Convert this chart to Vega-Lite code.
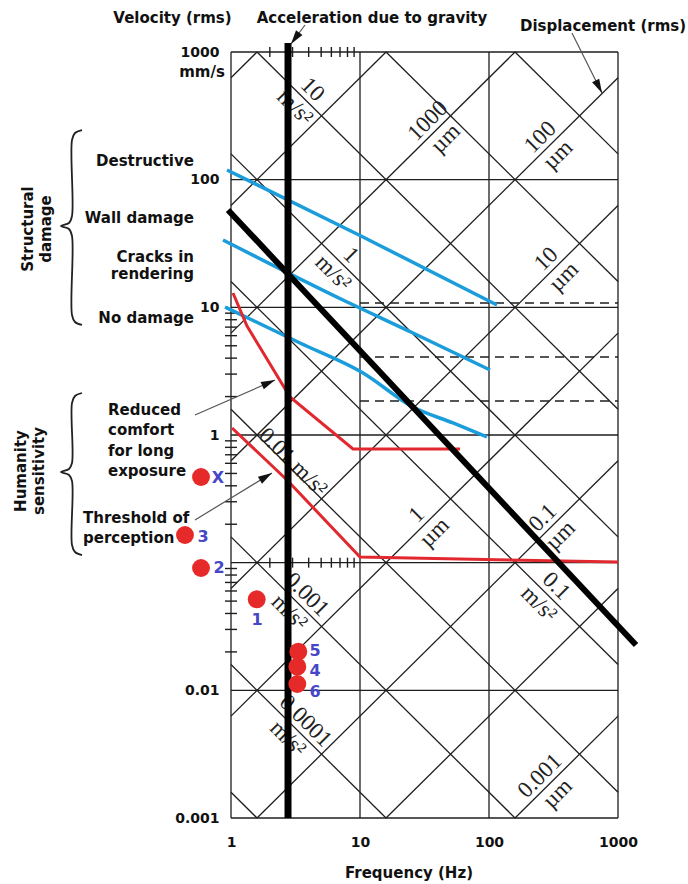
{
"$schema": "https://vega.github.io/schema/vega-lite/v6.json",
"width": 387, "height": 766,
"autosize": {"type": "none"},
"padding": {"left": 231, "top": 52, "right": 70, "bottom": 66},
"background": "white",
"config": {"view": {"stroke": null}},
"datasets": {
"segs": [
{"k":"grid","f":1,"v":0.001,"f2":1,"v2":1000},
{"k":"grid","f":10,"v":0.001,"f2":10,"v2":1000},
{"k":"grid","f":100,"v":0.001,"f2":100,"v2":1000},
{"k":"grid","f":1000,"v":0.001,"f2":1000,"v2":1000},
{"k":"grid","f":1,"v":0.001,"f2":1000,"v2":0.001},
{"k":"grid","f":1,"v":0.01,"f2":1000,"v2":0.01},
{"k":"grid","f":1,"v":0.1,"f2":1000,"v2":0.1},
{"k":"grid","f":1,"v":1,"f2":1000,"v2":1},
{"k":"grid","f":1,"v":10,"f2":1000,"v2":10},
{"k":"grid","f":1,"v":100,"f2":1000,"v2":100},
{"k":"grid","f":1,"v":1000,"f2":1000,"v2":1000},
{"k":"diag","f":159.15,"v":0.001,"f2":1000,"v2":0.006283},
{"k":"diag","f":15.915,"v":0.001,"f2":1000,"v2":0.06283},
{"k":"diag","f":1.5915,"v":0.001,"f2":1000,"v2":0.6283},
{"k":"diag","f":1,"v":0.006283,"f2":1000,"v2":6.283},
{"k":"diag","f":1,"v":0.06283,"f2":1000,"v2":62.83},
{"k":"diag","f":1,"v":0.6283,"f2":1000,"v2":628.3},
{"k":"diag","f":1,"v":6.283,"f2":159.15,"v2":1000},
{"k":"diag","f":1,"v":62.83,"f2":15.915,"v2":1000},
{"k":"diag","f":1,"v":628.3,"f2":1.5915,"v2":1000},
{"k":"diag","f":159.15,"v":1000,"f2":1000,"v2":159.15},
{"k":"diag","f":15.915,"v":1000,"f2":1000,"v2":15.915},
{"k":"diag","f":1.5915,"v":1000,"f2":1000,"v2":1.5915},
{"k":"diag","f":1,"v":159.15,"f2":1000,"v2":0.15915},
{"k":"diag","f":1,"v":15.915,"f2":1000,"v2":0.015915},
{"k":"diag","f":1,"v":1.5915,"f2":1000,"v2":0.0015915},
{"k":"diag","f":1,"v":0.15915,"f2":159.15,"v2":0.001},
{"k":"diag","f":1,"v":0.015915,"f2":15.915,"v2":0.001},
{"k":"diag","f":1,"v":0.0015915,"f2":1.5915,"v2":0.001},
{"k":"dash","f":10,"v":10.81,"f2":1000,"v2":10.81},
{"k":"dash","f":10,"v":4.083,"f2":1000,"v2":4.083},
{"k":"dash","f":10,"v":1.846,"f2":1000,"v2":1.846},
{"k":"gdiag","f":0.9479,"v":57.86,"f2":1379,"v2":0.02265},
{"k":"bar","f":2.767,"v":0.001,"f2":2.767,"v2":1176},
{"k":"arrow","f":0.5258,"v":1.434,"f2":2.193,"v2":2.697},
{"k":"arrow","f":0.5258,"v":0.2159,"f2":2.078,"v2":0.5039},
{"k":"arrow","f":3.746,"v":1627,"f2":2.918,"v2":1155},
{"k":"arrow","f":439.9,"v":1408,"f2":751.6,"v2":477.5}
],
"mt": [
{"k":"y","f":1,"v":0.02},{"k":"y","f":1,"v":0.03},{"k":"y","f":1,"v":0.04},{"k":"y","f":1,"v":0.05},{"k":"y","f":1,"v":0.06},{"k":"y","f":1,"v":0.07},{"k":"y","f":1,"v":0.08},{"k":"y","f":1,"v":0.09},
{"k":"y","f":1,"v":0.2},{"k":"y","f":1,"v":0.3},{"k":"y","f":1,"v":0.4},{"k":"y","f":1,"v":0.5},{"k":"y","f":1,"v":0.6},{"k":"y","f":1,"v":0.7},{"k":"y","f":1,"v":0.8},{"k":"y","f":1,"v":0.9},
{"k":"y","f":1,"v":2},{"k":"y","f":1,"v":3},{"k":"y","f":1,"v":4},{"k":"y","f":1,"v":5},{"k":"y","f":1,"v":6},{"k":"y","f":1,"v":7},{"k":"y","f":1,"v":8},{"k":"y","f":1,"v":9},
{"k":"x","f":2,"v":1000},{"k":"x","f":3,"v":1000},{"k":"x","f":4,"v":1000},{"k":"x","f":5,"v":1000},{"k":"x","f":6,"v":1000},{"k":"x","f":7,"v":1000},{"k":"x","f":8,"v":1000},{"k":"x","f":9,"v":1000},
{"k":"x","f":2,"v":0.1},{"k":"x","f":3,"v":0.1},{"k":"x","f":4,"v":0.1},{"k":"x","f":5,"v":0.1},{"k":"x","f":6,"v":0.1},{"k":"x","f":7,"v":0.1},{"k":"x","f":8,"v":0.1},{"k":"x","f":9,"v":0.1}
],
"acc": [
{"t":"10\nm/s²","f":3.667,"v":434.0},
{"t":"1\nm/s²","f":7.262,"v":21.9},
{"t":"0.001\nm/s²","f":3.313,"v":0.04803},
{"t":"0.1\nm/s²","f":284.7,"v":0.05591},
{"t":"0.0001\nm/s²","f":3.236,"v":0.004915}
],
"acc1": [
{"t":"0.01 m/s²","f":3.0236,"v":0.6144}
],
"disp": [
{"t":"1000\nµm","f":39.26,"v":246.6},
{"t":"100\nµm","f":291.9,"v":183.4},
{"t":"10\nµm","f":324.3,"v":20.38},
{"t":"1\nµm","f":32.19,"v":0.2023},
{"t":"0.1\nµm","f":305.2,"v":0.1917},
{"t":"0.001\nµm","f":290.3,"v":0.001824}
],
"blue": [
{"id":"b1","i":0,"f":0.9311,"v":119.0},{"id":"b1","i":1,"f":10.55,"v":35.56},{"id":"b1","i":2,"f":115.3,"v":10.43},
{"id":"b2","i":0,"f":0.867,"v":33.68},{"id":"b2","i":1,"f":7.383,"v":11.41},{"id":"b2","i":2,"f":25.75,"v":6.295},{"id":"b2","i":3,"f":101.8,"v":3.23},
{"id":"b3","i":0,"f":0.8985,"v":10.06},{"id":"b3","i":1,"f":3.426,"v":5.255},{"id":"b3","i":2,"f":10.55,"v":3.06},{"id":"b3","i":3,"f":25.75,"v":1.657},{"id":"b3","i":4,"f":52.6,"v":1.242},{"id":"b3","i":5,"f":96.5,"v":0.9645}
],
"red": [
{"id":"r1","i":0,"f":1.036,"v":12.95},{"id":"r1","i":1,"f":1.331,"v":7.142},{"id":"r1","i":2,"f":2.867,"v":1.985},{"id":"r1","i":3,"f":8.826,"v":0.7772},{"id":"r1","i":4,"f":59.61,"v":0.7772},
{"id":"r2","i":0,"f":1.018,"v":1.135},{"id":"r2","i":1,"f":2.717,"v":0.4441},{"id":"r2","i":2,"f":10.0,"v":0.1107},{"id":"r2","i":3,"f":1000,"v":0.1012}
],
"braces": [
{"id":"s","i":0,"f":0.06998,"v":244.9},{"id":"s","i":1,"f":0.06176,"v":232.0},{"id":"s","i":2,"f":0.05854,"v":204.5},{"id":"s","i":3,"f":0.05854,"v":51.93},{"id":"s","i":4,"f":0.05548,"v":45.78},{"id":"s","i":5,"f":0.0481,"v":43.36},{"id":"s","i":6,"f":0.05548,"v":41.08},{"id":"s","i":7,"f":0.05854,"v":36.22},{"id":"s","i":8,"f":0.05854,"v":8.708},{"id":"s","i":9,"f":0.06176,"v":7.676},{"id":"s","i":10,"f":0.06998,"v":7.272},
{"id":"h","i":0,"f":0.06998,"v":2.133},{"id":"h","i":1,"f":0.06176,"v":2.021},{"id":"h","i":2,"f":0.05854,"v":1.781},{"id":"h","i":3,"f":0.05854,"v":0.6035},{"id":"h","i":4,"f":0.05548,"v":0.5418},{"id":"h","i":5,"f":0.0481,"v":0.513},{"id":"h","i":6,"f":0.05548,"v":0.4861},{"id":"h","i":7,"f":0.05854,"v":0.4362},{"id":"h","i":8,"f":0.05854,"v":0.1375},{"id":"h","i":9,"f":0.06176,"v":0.1212},{"id":"h","i":10,"f":0.06998,"v":0.1148}
],
"hdr": [
{"t":"Velocity (rms)","f":0.352,"v":1830},
{"t":"Acceleration due to gravity","f":12.39,"v":1830},
{"t":"Displacement (rms)","f":765,"v":1599},
{"t":"Frequency (Hz)","f":23.98,"v":0.000371},
{"t":"mm/s","f":0.5959,"v":697}
],
"rtxt": [
{"t":"Destructive","f":0.5164,"v":140.0},
{"t":"Wall damage","f":0.5164,"v":50.08},
{"t":"Cracks in\nrendering","f":0.5164,"v":24.8},
{"t":"No damage","f":0.5164,"v":8.249}
],
"ltxt": [
{"t":"Reduced\ncomfort\nfor long\nexposure","f":0.1113,"v":1.57},
{"t":"Threshold of\nperception","f":0.07124,"v":0.2239}
],
"rot": [
{"t":"Structural\ndamage","f":0.02669,"v":41.08},
{"t":"Humanity\nsensitivity","f":0.02355,"v":0.5224}
],
"dots": [
{"n":"X","f":0.5855,"v":0.4688},{"n":"3","f":0.4398,"v":0.1647},{"n":"2","f":0.5855,"v":0.09082},{"n":"1","f":1.582,"v":0.05164},{"n":"5","f":3.324,"v":0.02008},{"n":"4","f":3.266,"v":0.01532},{"n":"6","f":3.266,"v":0.01121}
],
"dlab": [
{"n":"X","f":0.7928,"v":0.4603},{"n":"3","f":0.6067,"v":0.1589},{"n":"2","f":0.8071,"v":0.09082},{"n":"1","f":1.591,"v":0.03556},{"n":"5","f":4.479,"v":0.02033},{"n":"4","f":4.479,"v":0.01417},{"n":"6","f":4.479,"v":0.00963}
]
},
"encoding": {
"x": {"field":"f","type":"quantitative","scale":{"type":"log","domain":[1,1000],"nice":false},
"axis":{"values":[1,10,100,1000],"format":"d","ticks":false,"domain":false,"grid":false,"labelFlush":false,"labelOverlap":false,"labelFont":"DejaVu Sans","labelFontWeight":"bold","labelFontSize":14,"labelColor":"#111","labelPadding":17,"title":null}},
"y": {"field":"v","type":"quantitative","scale":{"type":"log","domain":[0.001,1000],"nice":false},
"axis":{"values":[0.001,0.01,1,10,100,1000],"format":"~g","ticks":false,"domain":false,"grid":false,"labelFlush":false,"labelOverlap":false,"labelFont":"DejaVu Sans","labelFontWeight":"bold","labelFontSize":14,"labelColor":"#111","labelPadding":12,"title":null}}
},
"layer": [
{"data":{"name":"segs"},"transform":[{"filter":"datum.k=='grid' || datum.k=='diag'"}],"mark":{"type":"rule","stroke":"#1e1e1e","strokeWidth":1.3},"encoding":{"x2":{"field":"f2"},"y2":{"field":"v2"}}},
{"data":{"name":"segs"},"transform":[{"filter":"datum.k=='dash'"}],"mark":{"type":"rule","stroke":"#1e1e1e","strokeWidth":1.3,"strokeDash":[9,6]},"encoding":{"x2":{"field":"f2"},"y2":{"field":"v2"}}},
{"data":{"name":"mt"},"transform":[{"filter":"datum.k=='y'"}],"mark":{"type":"tick","orient":"horizontal","size":12,"thickness":1.4,"color":"#1e1e1e","opacity":1}},
{"data":{"name":"mt"},"transform":[{"filter":"datum.k=='x'"}],"mark":{"type":"tick","orient":"vertical","size":10,"thickness":1.4,"color":"#1e1e1e","opacity":1}},
{"data":{"name":"acc"},"mark":{"type":"text","font":"Liberation Serif","fontSize":23,"angle":45,"lineBreak":"\n","lineHeight":25,"dy":-12.5,"align":"center","baseline":"middle","color":"#222"},"encoding":{"text":{"field":"t"}}},
{"data":{"name":"acc1"},"mark":{"type":"text","font":"Liberation Serif","fontSize":23,"angle":45,"align":"center","baseline":"middle","color":"#222"},"encoding":{"text":{"field":"t"}}},
{"data":{"name":"disp"},"mark":{"type":"text","font":"Liberation Serif","fontSize":23,"angle":315,"lineBreak":"\n","lineHeight":25,"dy":-12.5,"align":"center","baseline":"middle","color":"#222"},"encoding":{"text":{"field":"t"}}},
{"data":{"name":"blue"},"mark":{"type":"line","color":"#1c9ddb","strokeWidth":3.5,"interpolate":"monotone"},"encoding":{"detail":{"field":"id"},"order":{"field":"i"}}},
{"data":{"name":"red"},"mark":{"type":"line","color":"#e0282e","strokeWidth":3},"encoding":{"detail":{"field":"id"},"order":{"field":"i"}}},
{"data":{"name":"segs"},"transform":[{"filter":"datum.k=='gdiag'"}],"mark":{"type":"rule","stroke":"#000","strokeWidth":6},"encoding":{"x2":{"field":"f2"},"y2":{"field":"v2"}}},
{"data":{"name":"segs"},"transform":[{"filter":"datum.k=='bar'"}],"mark":{"type":"rule","stroke":"#000","strokeWidth":7},"encoding":{"x2":{"field":"f2"},"y2":{"field":"v2"}}},
{"data":{"name":"segs"},"transform":[{"filter":"datum.k=='arrow'"}],"mark":{"type":"rule","stroke":"#555","strokeWidth":1.2},"encoding":{"x2":{"field":"f2"},"y2":{"field":"v2"}}},
{"data":{"values":[{"f":2.193,"v":2.697}]},"mark":{"type":"point","shape":"M0,0L0.57,2L-0.57,2Z","filled":true,"size":196,"color":"#111","opacity":1,"angle":66}},
{"data":{"values":[{"f":2.078,"v":0.5039}]},"mark":{"type":"point","shape":"M0,0L0.57,2L-0.57,2Z","filled":true,"size":196,"color":"#111","opacity":1,"angle":59}},
{"data":{"values":[{"f":2.918,"v":1155}]},"mark":{"type":"point","shape":"M0,0L0.57,2L-0.57,2Z","filled":true,"size":196,"color":"#111","opacity":1,"angle":216}},
{"data":{"values":[{"f":751.6,"v":477.5}]},"mark":{"type":"point","shape":"M0,0L0.57,2L-0.57,2Z","filled":true,"size":196,"color":"#111","opacity":1,"angle":153}},
{"data":{"name":"braces"},"mark":{"type":"line","color":"#222","strokeWidth":1.8,"interpolate":"catmull-rom"},"encoding":{"detail":{"field":"id"},"order":{"field":"i"}}},
{"data":{"name":"hdr"},"mark":{"type":"text","font":"DejaVu Sans","fontWeight":"bold","fontSize":15,"align":"center","baseline":"middle","color":"#111"},"encoding":{"text":{"field":"t"}}},
{"data":{"name":"rtxt"},"mark":{"type":"text","font":"DejaVu Sans","fontWeight":"bold","fontSize":15,"align":"right","baseline":"middle","lineBreak":"\n","lineHeight":17,"color":"#111"},"encoding":{"text":{"field":"t"}}},
{"data":{"name":"ltxt"},"mark":{"type":"text","font":"DejaVu Sans","fontWeight":"bold","fontSize":15,"align":"left","baseline":"middle","lineBreak":"\n","lineHeight":20.5,"color":"#111"},"encoding":{"text":{"field":"t"}}},
{"data":{"name":"rot"},"mark":{"type":"text","font":"DejaVu Sans","fontWeight":"bold","fontSize":15,"align":"center","baseline":"middle","angle":270,"lineBreak":"\n","lineHeight":18,"color":"#111"},"encoding":{"text":{"field":"t"}}},
{"data":{"name":"dots"},"mark":{"type":"circle","size":320,"color":"#e62a2a","opacity":1}},
{"data":{"name":"dlab"},"mark":{"type":"text","font":"DejaVu Sans","fontWeight":"bold","fontSize":16,"align":"center","baseline":"middle","color":"#4646c8"},"encoding":{"text":{"field":"n"}}}
]
}
